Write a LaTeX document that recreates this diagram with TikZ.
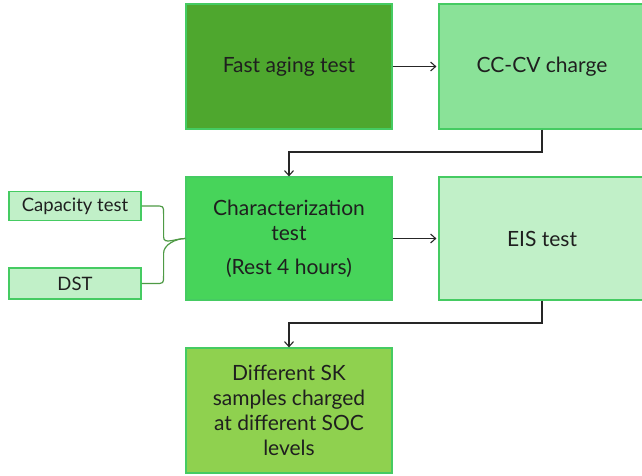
\documentclass[tikz,border=0pt]{standalone}
\usepackage{fontspec}
\setmainfont{Lato}
\usetikzlibrary{arrows.meta}
\definecolor{edgegreen}{HTML}{45CB62}
\definecolor{agefill}{HTML}{4EA72E}
\definecolor{chargefill}{HTML}{8AE298}
\definecolor{charfill}{HTML}{47D45A}
\definecolor{eisfill}{HTML}{C1F0C8}
\definecolor{skfill}{HTML}{8FD14F}
\definecolor{bracegreen}{HTML}{4E9A45}
\definecolor{arrowgray}{HTML}{262626}
\tikzset{
  bigbox/.style={draw=edgegreen, line width=1.2pt, minimum width=206pt, minimum height=125pt,
    inner sep=0pt, align=center, font=\fontsize{21}{25}\selectfont, text=black!88},
  smallbox/.style={draw=edgegreen, line width=1.2pt, fill=eisfill, minimum width=132pt,
    minimum height=29pt, inner sep=0pt, font=\fontsize{18.5}{20}\selectfont, text=black!88},
  flow/.style={draw=arrowgray, line width=1.1pt, -{Straight Barb[length=5pt,width=9pt]}},
  bracelink/.style={draw=bracegreen, line width=1.2pt}
}
\begin{document}
\begin{tikzpicture}[x=1pt,y=-1pt]
\useasboundingbox (0,0) rectangle (642,475);
\clip (0,0) rectangle (642,475);
\fill[white] (0,0) rectangle (642,475);

% main process boxes
\node[bigbox, fill=agefill]    (age)    at (289,66.5)  {Fast aging test};
\node[bigbox, fill=chargefill] (charge) at (542,66.5)  {CC-CV charge};
\node[bigbox, fill=charfill, minimum height=123pt] (char) at (289,238.5)
  {Characterization\\test\\[9pt](Rest 4 hours)};
\node[bigbox, fill=eisfill, minimum height=123pt]  (eis)  at (542,238.5) {EIS test};
\node[bigbox, fill=skfill]     (sk)     at (289,410.5)
  {Different SK\\samples charged\\at different SOC\\levels};

% side tests
\node[smallbox] (cap) at (75,206) {Capacity test};
\node[smallbox, minimum height=31pt] (dst) at (75,283.5) {DST};

% flow arrows
\draw[flow] (age.east) -- ([xshift=-2pt]charge.west);
\coordinate (bend1) at (charge.south |- 0,152);
\draw[flow] (charge.south) -- (bend1) -| (char.north);
\draw[flow] (char.east) -- ([xshift=-2pt]eis.west);
\coordinate (bend2) at (eis.south |- 0,323);
\draw[flow] (eis.south) -- (bend2) -| (sk.north);

% brace joining the two side tests
\coordinate (tip) at (char.west);
\draw[bracelink] (cap.east) -- ++(14,0)
  .. controls +(8,0) and +(0,-8) .. ++(8,8) -- ++(0,23)
  .. controls +(0,8) and +(-10,0) .. (tip);
\draw[bracelink] (dst.east) -- ++(14,0)
  .. controls +(8,0) and +(0,8) .. ++(8,-8) -- ++(0,-22.5)
  .. controls +(0,-8) and +(-10,0) .. (tip);
\end{tikzpicture}
\end{document}
